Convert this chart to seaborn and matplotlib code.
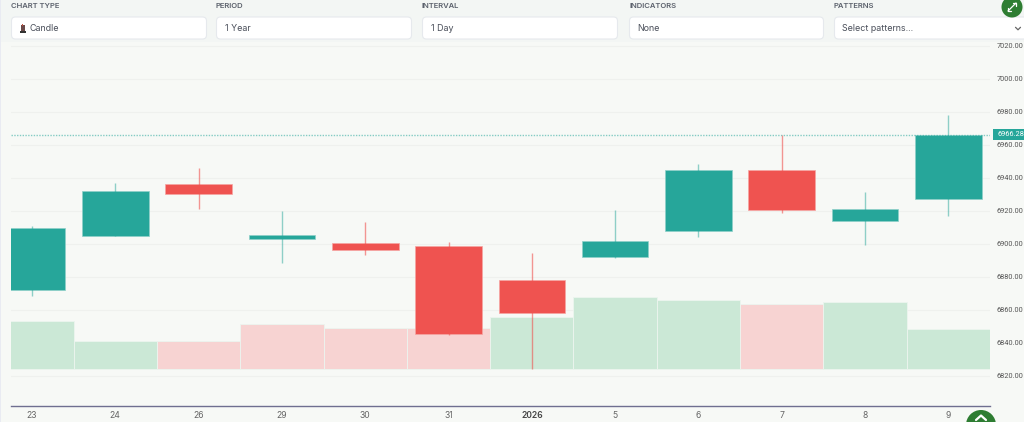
import matplotlib
matplotlib.use('Agg')
import matplotlib.pyplot as plt
from matplotlib.patches import FancyBboxPatch, Circle, Rectangle
import numpy as np
import seaborn as sns

# values
dates = ['23', '24', '26', '29', '30', '31', '2026', '5', '6', '7', '8', '9']
opens = [6872.1, 6904.8, 6936.4, 6903.0, 6900.6, 6898.8, 6878.0, 6892.0, 6907.9, 6944.8, 6913.9, 6927.3]
closes = [6909.7, 6932.1, 6930.3, 6905.5, 6896.4, 6845.5, 6858.0, 6901.8, 6944.8, 6920.6, 6921.2, 6966.2]
highs = [6910.9, 6937.0, 6946.0, 6920.0, 6913.3, 6901.0, 6894.5, 6920.6, 6948.5, 6966.0, 6931.5, 6978.0]
lows = [6868.5, 6904.8, 6921.0, 6888.5, 6893.3, 6845.0, 6824.0, 6891.5, 6904.2, 6918.8, 6899.4, 6917.0]
volumes = [48, 28, 28, 45, 41, 41, 52, 72, 69, 65, 67, 40]
vol_colors = ['g', 'g', 'r', 'r', 'r', 'r', 'g', 'g', 'g', 'r', 'g', 'g']
price_ticks = [6820, 6840, 6860, 6880, 6900, 6920, 6940, 6960, 6980, 7000, 7020]
last_price = 6966.28

field_labels = ['CHART TYPE', 'PERIOD', 'INTERVAL', 'INDICATORS', 'PATTERNS']
field_values = ['Candle', '1 Year', '1 Day', 'None', 'Select patterns...']

sns.set_theme(style='white')
plt.rcParams['font.family'] = ['Inter', 'DejaVu Sans']

BG = '#f7f9f6'
TEAL = '#26a69a'
RED = '#ef5350'
XLIM = (-0.252, 11.5)
YLIM = (6801.8, 7022.4)

fig = plt.figure(figsize=(10.24, 4.22), dpi=100, facecolor=BG)
rect = [11 / 1024, 16 / 422, 979 / 1024, 364 / 422]

# three layers: grid and ticks, volume, candles
base = fig.add_axes(rect, facecolor=BG)
vol_ax = fig.add_axes(rect, facecolor='none')
ax = fig.add_axes(rect, facecolor='none')

base.set_xlim(*XLIM)
base.set_ylim(*YLIM)
base.yaxis.tick_right()
base.set_yticks(price_ticks)
base.set_yticklabels([f'{p:.2f}' for p in price_ticks], fontsize=5.3, color='#555555', family='Roboto')
base.set_xticks(range(len(dates)))
base.set_xticklabels(dates)
base.tick_params(axis='y', length=0, pad=5)
base.tick_params(axis='x', length=0, pad=3.5, labelsize=6.2, labelcolor='#666666')
for lab in base.get_xticklabels():
    if lab.get_text() == '2026':
        lab.set_fontweight('semibold')
        lab.set_color('#444444')
base.grid(axis='y', color='#eff1ee', lw=0.8)
for name, spine in base.spines.items():
    spine.set_visible(name == 'bottom')
base.spines['bottom'].set_color('#6f6f90')
base.spines['bottom'].set_linewidth(1.0)

opens_a, closes_a = np.array(opens), np.array(closes)
up = closes_a >= opens_a
dates_a = np.array(dates)

vol_pal = {'g': '#cbe8d6', 'r': '#f7d3d2'}
sns.barplot(x=dates, y=volumes, hue=vol_colors, palette=vol_pal, order=dates, dodge=False, saturation=1,
            width=1.0, legend=False, edgecolor='#ecf5ef', linewidth=0.6, ax=vol_ax)
vol_ax.set_xlim(*XLIM)
vol_ax.set_ylim(-37, 327)
vol_ax.axis('off')

# wicks first, bodies on top
ax.vlines(np.arange(len(dates))[up], np.array(lows)[up], np.array(highs)[up], color=TEAL, alpha=0.5, lw=1)
ax.vlines(np.arange(len(dates))[~up], np.array(lows)[~up], np.array(highs)[~up], color=RED, alpha=0.6, lw=1)

bottoms = np.minimum(opens_a, closes_a)
heights = np.abs(closes_a - opens_a)
sns.barplot(x=dates_a[up], y=heights[up], bottom=bottoms[up], order=dates, color=TEAL, saturation=1,
            width=0.8, edgecolor='#8fd0c9', linewidth=0.5, ax=ax)
sns.barplot(x=dates_a[~up], y=heights[~up], bottom=bottoms[~up], order=dates, color=RED, saturation=1,
            width=0.8, edgecolor='#f6a5a3', linewidth=0.5, ax=ax)

ax.axhline(last_price, color=TEAL, alpha=0.55, lw=1, ls=(0, (1, 1)), zorder=1)
ax.set_xlim(*XLIM)
ax.set_ylim(*YLIM)
ax.axis('off')

# page furniture, drawn in pixel coordinates
top = fig.add_axes([0, 0, 1, 1], facecolor='none')
top.set_xlim(0, 1024)
top.set_ylim(422, 0)
top.axis('off')
top.add_patch(Rectangle((0, 0), 1024, 42, facecolor='#f3f6f4', edgecolor='none'))
top.add_patch(Rectangle((0, 0), 1.2, 422, facecolor='#e9ebf2', edgecolor='none'))

box_left = [11, 216, 422, 629, 834]
box_right = [207, 412, 618, 824, 1030]
text_left = [30, 225, 431, 637, 842]
for i in range(5):
    top.text(box_left[i], 6.5, field_labels[i], fontsize=5.5, fontweight='semibold', color='#5a606b', va='center')
    top.add_patch(FancyBboxPatch((box_left[i] + 0.5, 17), box_right[i] - box_left[i] - 1, 22,
                                 boxstyle='round,pad=0,rounding_size=4', facecolor='white',
                                 edgecolor='#e6e9ed', lw=0.8))
    top.text(text_left[i], 28.5, field_values[i], fontsize=6.4, color='#4a4f5a', va='center')

# little candle icon in front of "Candle"
top.add_patch(Rectangle((21, 25), 3.5, 6, facecolor='#6a4a4a', edgecolor='none'))
top.add_patch(Rectangle((19.5, 30.5), 6.5, 2.5, facecolor='#333333', edgecolor='none'))
top.add_patch(Rectangle((22.2, 23.5), 1, 2, facecolor='#c05040', edgecolor='none'))
# dropdown chevron
top.plot([1015.5, 1018, 1020.5], [27.3, 29.8, 27.3], color='#666666', lw=0.9)

# price tag
top.add_patch(Rectangle((993, 129), 31, 11, facecolor=TEAL, edgecolor='none'))
top.text(997, 134.6, f'{last_price:.2f}', fontsize=5.3, color='white', va='center', family='Roboto')

# round green buttons
top.add_patch(Circle((1012, 7), 10.5, facecolor='#2e7d32', edgecolor='none'))
top.plot([1008, 1016], [11, 3], color='white', lw=0.9)
top.plot([1008, 1008, 1011], [8, 11, 11], color='white', lw=0.9)
top.plot([1013, 1016, 1016], [3, 3, 6], color='white', lw=0.9)
top.add_patch(Circle((981, 425), 15, facecolor='#2e7d32', edgecolor='none'))
top.plot([976, 981, 986], [420, 415.5, 420], color='white', lw=1.6)

fig.savefig('out.png', dpi=100, facecolor=BG)
